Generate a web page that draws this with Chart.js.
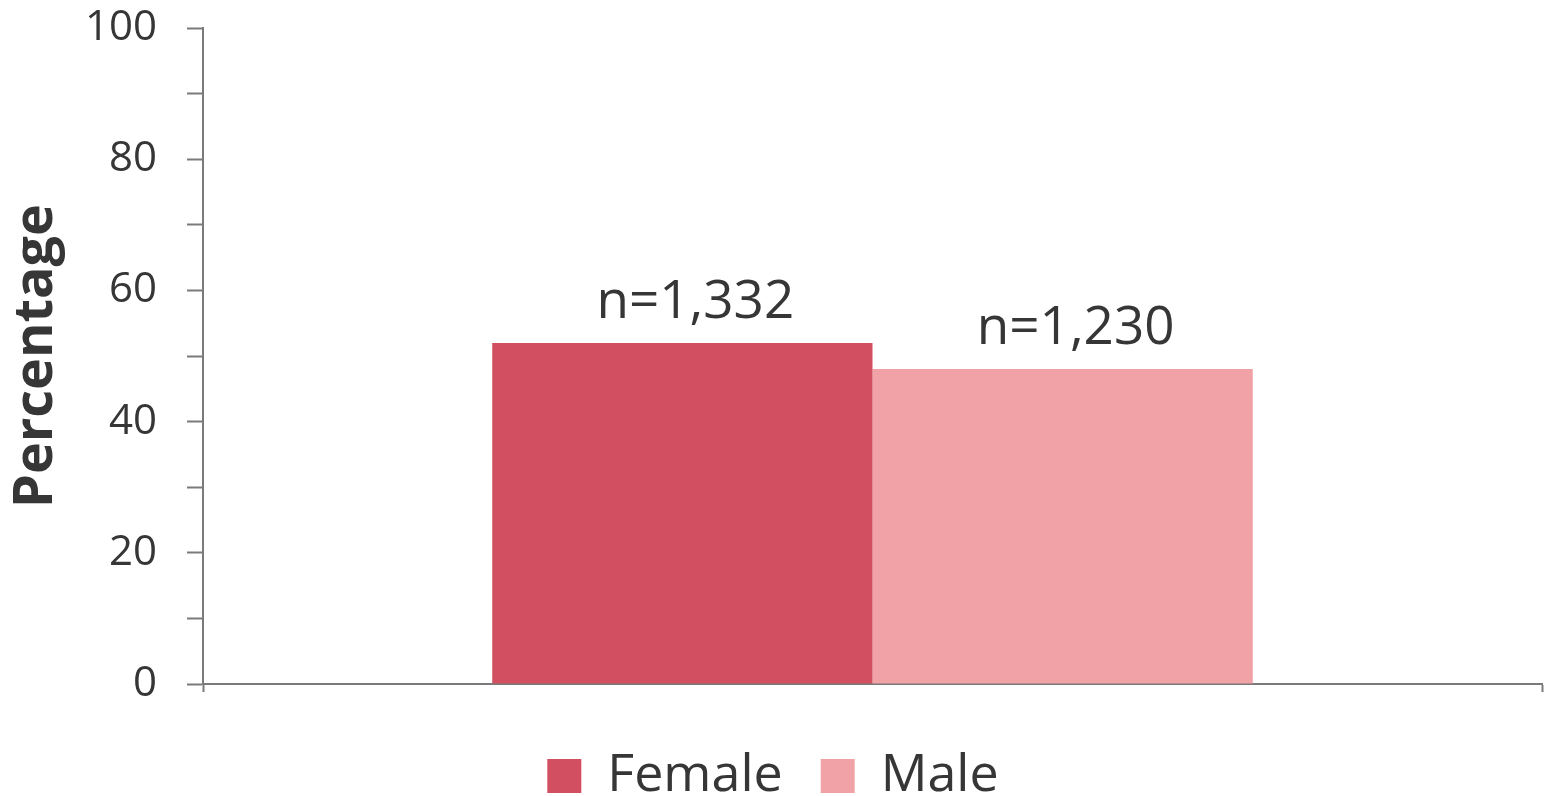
<!DOCTYPE html>
<html>
<head>
<meta charset="utf-8">
<script src="https://cdn.jsdelivr.net/npm/chart.js@4"></script>
<style>
  html, body { margin: 0; padding: 0; background: #fff; }
  #wrap { width: 1552px; height: 796px; }
</style>
</head>
<body>
<div id="wrap"><canvas id="chart" width="1552" height="796"></canvas></div>
<script>
// chart data
const categories = [''];
const seriesNames = ['Female', 'Male'];
const seriesValues = [[52], [48]];
const sampleLabels = ['n=1,332', 'n=1,230'];
const seriesColors = ['#D14F61', '#F0A2A6'];
const yTicks = [0, 20, 40, 60, 80, 100];

const textColor = '#363636';
const axisColor = '#7a7a7a';
const fontFamily = '"Open Sans", "Noto Sans", sans-serif';

// writes the n= labels above each bar
const barLabels = {
    id: 'barLabels',
    afterDatasetsDraw(chart) {
        const ctx = chart.ctx;
        ctx.save();
        ctx.fillStyle = textColor;
        ctx.font = '53px ' + fontFamily;
        ctx.textAlign = 'center';
        ctx.textBaseline = 'alphabetic';
        chart.data.datasets.forEach((ds, i) => {
            const bar = chart.getDatasetMeta(i).data[0];
            ctx.fillText(sampleLabels[i], bar.x + 13, bar.y - 25);
        });
        ctx.restore();
    }
};

const ctx = document.getElementById('chart').getContext('2d');
new Chart(ctx, {
    type: 'bar',
    data: {
        labels: categories,
        datasets: seriesNames.map((name, i) => ({
            label: name,
            data: seriesValues[i],
            backgroundColor: seriesColors[i],
            borderWidth: 0,
            categoryPercentage: 0.568,
            barPercentage: 1.0
        }))
    },
    options: {
        responsive: false,
        animation: false,
        layout: { padding: { top: 28, right: 10, left: 4, bottom: -16 } },
        plugins: {
            legend: {
                position: 'bottom',
                labels: {
                    boxWidth: 34,
                    boxHeight: 34,
                    padding: 38,
                    color: textColor,
                    font: { family: fontFamily, size: 52 }
                }
            },
            tooltip: { enabled: false }
        },
        scales: {
            x: {
                offset: true,
                afterFit: (scale) => { scale.height = 28; },
                grid: {
                    offset: true,
                    drawOnChartArea: false,
                    drawTicks: true,
                    tickLength: 8,
                    tickWidth: 2,
                    color: axisColor
                },
                border: { color: axisColor, width: 2 },
                ticks: { display: false }
            },
            y: {
                min: 0,
                max: 100,
                afterFit: (scale) => {
                    scale.width = 199;
                    // let the top label overflow the chart area like the original
                    scale.paddingTop = 0;
                    scale.paddingBottom = 0;
                },
                afterBuildTicks: (scale) => {
                    const t = [];
                    for (let v = 0; v <= 100; v += 10) t.push({ value: v });
                    scale.ticks = t;
                },
                grid: {
                    drawOnChartArea: false,
                    tickLength: 16,
                    tickWidth: 2,
                    color: axisColor
                },
                border: { color: axisColor, width: 2 },
                ticks: {
                    padding: 30,
                    color: textColor,
                    font: { family: fontFamily, size: 42 },
                    callback: (v) => yTicks.includes(v) ? String(v) : ''
                },
                title: {
                    display: true,
                    text: 'Percentage',
                    color: textColor,
                    font: { family: fontFamily, size: 54, weight: 'bold' },
                    padding: { top: 0, bottom: 0 }
                }
            }
        }
    },
    plugins: [barLabels]
});
</script>
</body>
</html>
